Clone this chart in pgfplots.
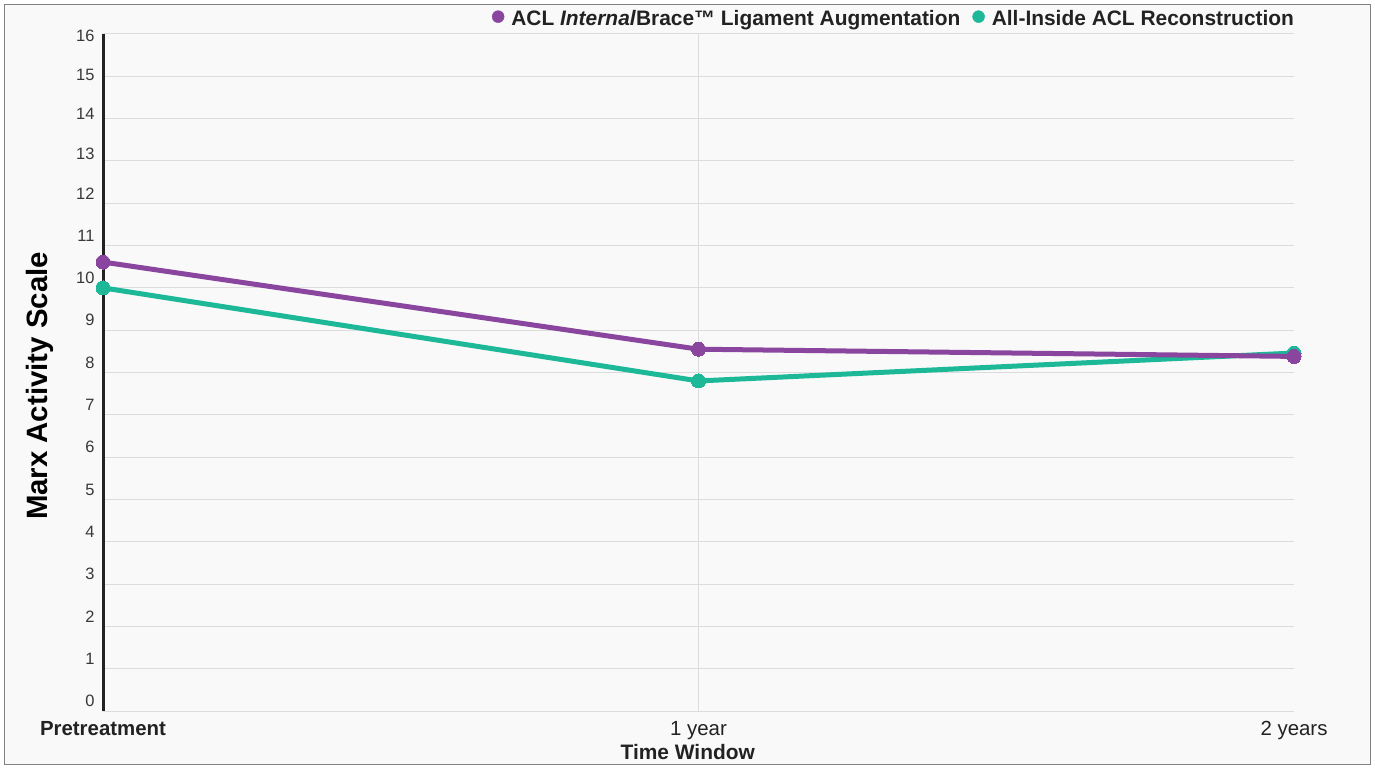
\documentclass[border=0pt]{standalone}
\usepackage{pgfplots}
\pgfplotsset{compat=1.18}
\usepackage{fontspec}
\setmainfont{Liberation Sans}
\definecolor{acl}{HTML}{8A469E}
\definecolor{tealc}{HTML}{1CB898}
\definecolor{gridc}{HTML}{DCDCDC}
\definecolor{txt}{HTML}{222222}
\definecolor{bgc}{HTML}{F9F9F9}
\definecolor{frame}{HTML}{828282}
\begin{document}
\begin{tikzpicture}[x=1bp,y=1bp]
\useasboundingbox (0,0) rectangle (1375,767);
\fill[white] (0,0) rectangle (1375,767);
\draw[fill=bgc, draw=frame, line width=1.5bp] (4.5,2.5) rectangle (1370.5,762.5);
\begin{axis}[
  at={(103bp,56bp)}, anchor=south west,
  scale only axis, width=1191bp, height=677bp,
  xmin=0, xmax=2, ymin=0, ymax=16,
  clip=false,
  ytick={0,1,...,16},
  xtick={0,1,2},
  xticklabels={\textbf{Pretreatment},1 year,2 years},
  extra x ticks={1},
  extra x tick labels={},
  extra x tick style={grid=major},
  ymajorgrids,
  major grid style={gridc, line width=1bp},
  axis x line*=bottom, axis y line*=left,
  x axis line style={draw=none},
  y axis line style={-, line width=3bp, txt},
  tick style={draw=none},
  /pgf/number format/assume math mode=true,
  yticklabel style={font=\fontsize{16.5}{16.5}\selectfont, text=txt!90!white, xshift=-5bp, yshift={min(10,-1.5+2.9*(16-\ticknum))}},
  xticklabel style={font=\fontsize{20.5}{24}\selectfont, text=txt, yshift=-7bp},
  xlabel={\textbf{Time Window}},
  xlabel style={at={(axis description cs:0.491,0)}, anchor=center, yshift=-41bp, font=\fontsize{21}{24}\selectfont, text=txt},
  ylabel={\textbf{Marx Activity Scale}},
  ylabel style={at={(axis description cs:-0.0529,0.48)}, anchor=center, rotate=0, font=\fontsize{29.5}{32}\selectfont, text=black},
  legend columns=2,
  legend style={at={(axis description cs:1,1)}, anchor=south east, yshift=7bp,
    draw=none, fill=none, inner sep=0pt, outer sep=0pt,
    font=\fontsize{21}{24}\selectfont\bfseries, text=txt,
    nodes={inner sep=0pt},
    /tikz/every odd column/.append style={column sep=7bp},
    /tikz/every even column/.append style={column sep=12bp}},
  legend image code/.code={\fill[#1] (6bp,2bp) circle (6bp);},
]
\addplot[tealc, line width=5bp, mark=*, mark size=7bp, mark options={fill=tealc, draw=tealc, line width=0pt}, forget plot]
  coordinates {(0,10.0) (1,7.80) (2,8.46)};
\addplot[acl, line width=5bp, mark=*, mark size=7bp, mark options={fill=acl, draw=acl, line width=0pt}, forget plot]
  coordinates {(0,10.61) (1,8.55) (2,8.38)};
\addlegendimage{acl, fill=acl}
\addlegendentry{ACL \textit{Internal}Brace™ Ligament Augmentation}
\addlegendimage{tealc, fill=tealc}
\addlegendentry{All-Inside ACL Reconstruction}
\end{axis}
\end{tikzpicture}
\end{document}
